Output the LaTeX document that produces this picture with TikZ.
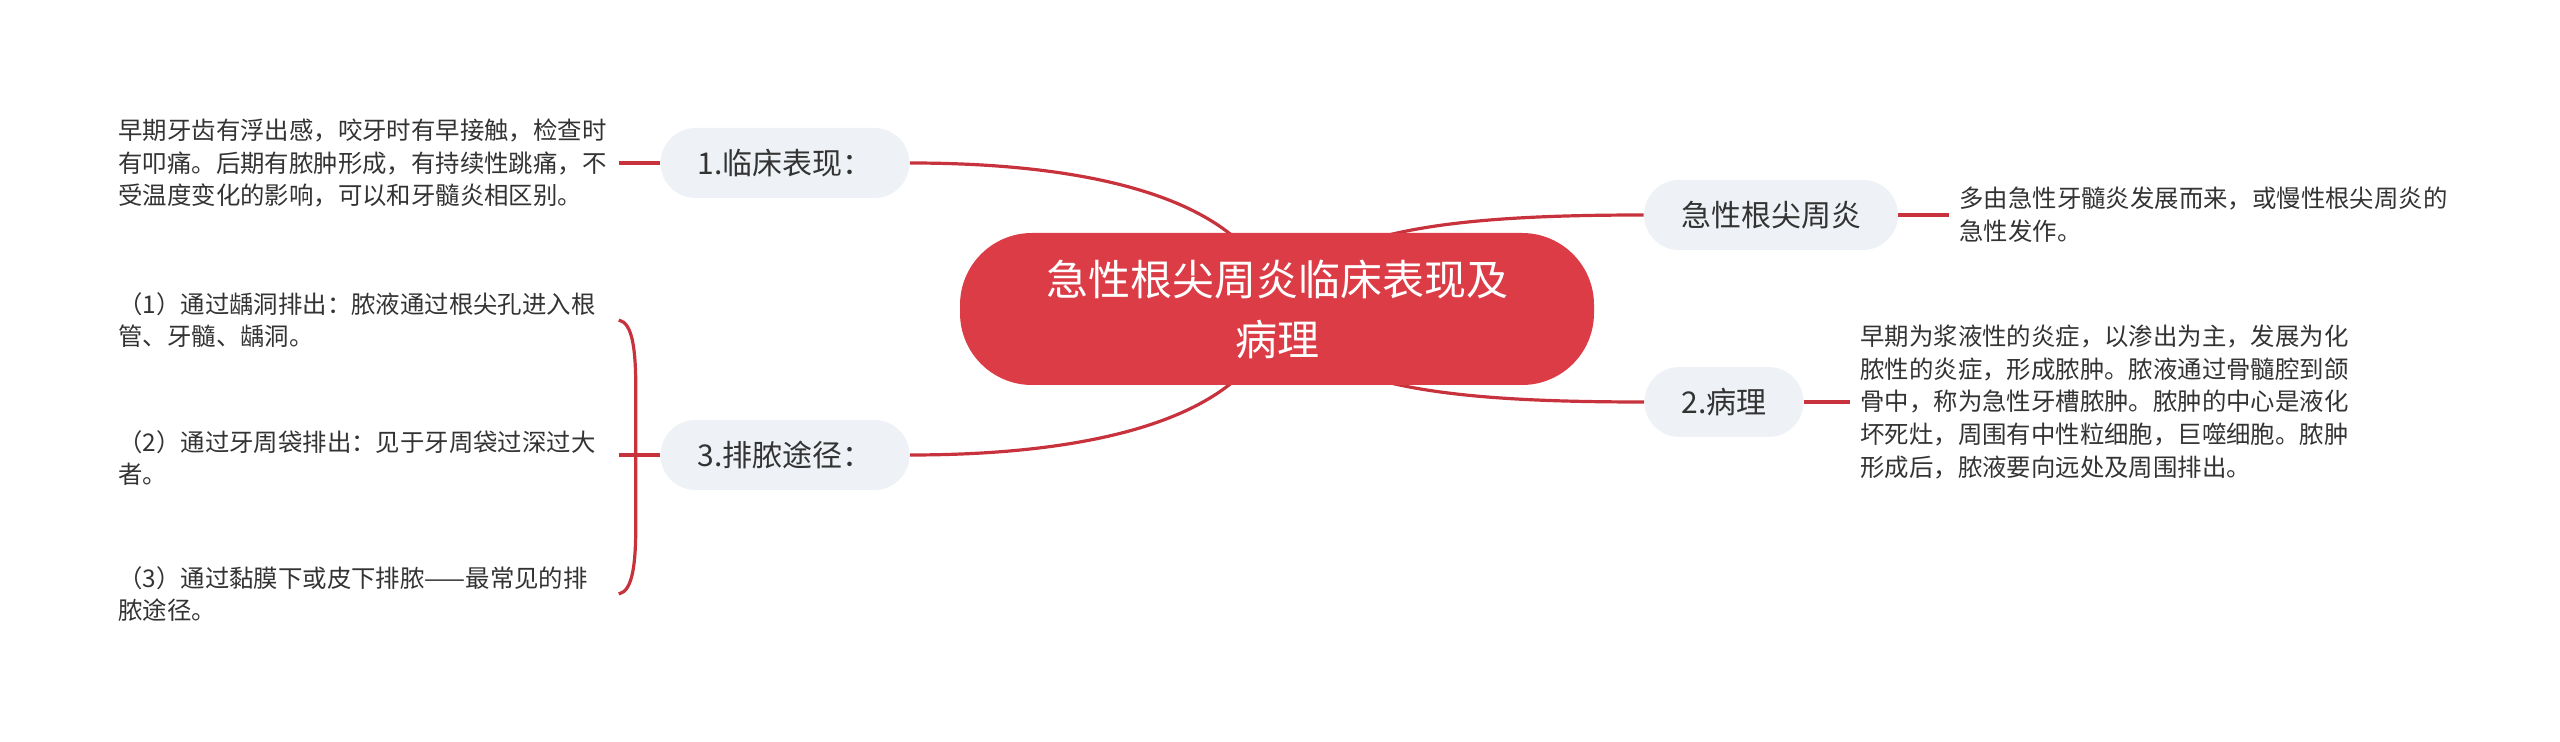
\documentclass[tikz,border=0pt]{standalone}
\usepackage{fontspec}
\setmainfont{Noto Sans CJK SC}
\usepackage{xcolor}
\usepackage{tikz}
\usetikzlibrary{calc}
\usetikzlibrary{backgrounds}
\definecolor{rootred}{HTML}{DC3C46}
\definecolor{linered}{HTML}{C8323C}
\definecolor{boxgray}{HTML}{EEF1F5}
\definecolor{txtgray}{HTML}{333333}

\begin{document}
\begin{tikzpicture}[x=0.5pt,y=-0.5pt,
	rootbox/.style={fill=rootred,text=white,rounded corners=36pt,minimum height=76pt,inner xsep=43pt,align=center,font=\fontsize{21pt}{30pt}\selectfont},
	branchbox/.style={fill=boxgray,text=txtgray,rounded corners=17.5pt,minimum height=35pt,inner xsep=18.5pt,font=\fontsize{15pt}{18pt}\selectfont},
	leafbox/.style={text=txtgray,anchor=west,text width=245pt,inner xsep=5pt,align=left,font=\fontsize{12.2pt}{16.4pt}\selectfont},
	link/.style={draw=linered,line width=1.6pt}]
	\useasboundingbox (0,0) rectangle (2560,742);
	\node[rootbox] (root) at (1277,309) {急性根尖周炎临床表现及\\病理};
	\node[branchbox] (clinic) at (785,163) {1.临床表现：};
	\node[branchbox] (acute) at (1771,215) {急性根尖周炎};
	\node[branchbox] (patho) at (1724,402) {2.病理};
	\node[branchbox] (drain) at (785,455) {3.排脓途径：};
	\node[leafbox] (clinictxt) at (108,163) {早期牙齿有浮出感，咬牙时有早接触，检查时\\有叩痛。后期有脓肿形成，有持续性跳痛，不\\受温度变化的影响，可以和牙髓炎相区别。};
	\node[leafbox] (acutetxt) at (1949,215) {多由急性牙髓炎发展而来，或慢性根尖周炎的\\急性发作。};
	\node[leafbox] (pathotxt) at (1850,402) {早期为浆液性的炎症，以渗出为主，发展为化\\脓性的炎症，形成脓肿。脓液通过骨髓腔到颌\\骨中，称为急性牙槽脓肿。脓肿的中心是液化\\坏死灶，周围有中性粒细胞，巨噬细胞。脓肿\\形成后，脓液要向远处及周围排出。};
	\node[leafbox] (drainA) at (108,320) {（1）通过龋洞排出：脓液通过根尖孔进入根\\管、牙髓、龋洞。};
	\node[leafbox] (drainB) at (108,458) {（2）通过牙周袋排出：见于牙周袋过深过大\\者。};
	\node[leafbox] (drainC) at (108,594) {（3）通过黏膜下或皮下排脓——最常见的排\\脓途径。};
	\begin{scope}[on background layer]
		\draw[link] (clinic.east) .. controls (1120,163) and (1260,210) .. (root.center);
		\draw[link] (root.center) .. controls (1310,230) and (1450,215) .. (acute.west);
		\draw[link] (root.center) .. controls (1310,388) and (1450,402) .. (patho.west);
		\draw[link] (drain.east) .. controls (1120,455) and (1260,408) .. (root.center);
		\draw[link] (clinic.west) -- (clinictxt.east);
		\draw[link] (acute.east) -- (acutetxt.west);
		\draw[link] (patho.east) -- (pathotxt.west);
		\draw[link] (drainB.east |- drain.west) -- (drain.west);
		\draw[link] (drainA.east) .. controls ($(drainA.east)+(14,3)$) and ($(drainA.east)+(17,30)$) .. ($(drainA.east)+(17,70)$)
			-- ($(drainC.east)+(17,-70)$) .. controls ($(drainC.east)+(17,-30)$) and ($(drainC.east)+(14,-3)$) .. (drainC.east);
	\end{scope}
\end{tikzpicture}
\end{document}
